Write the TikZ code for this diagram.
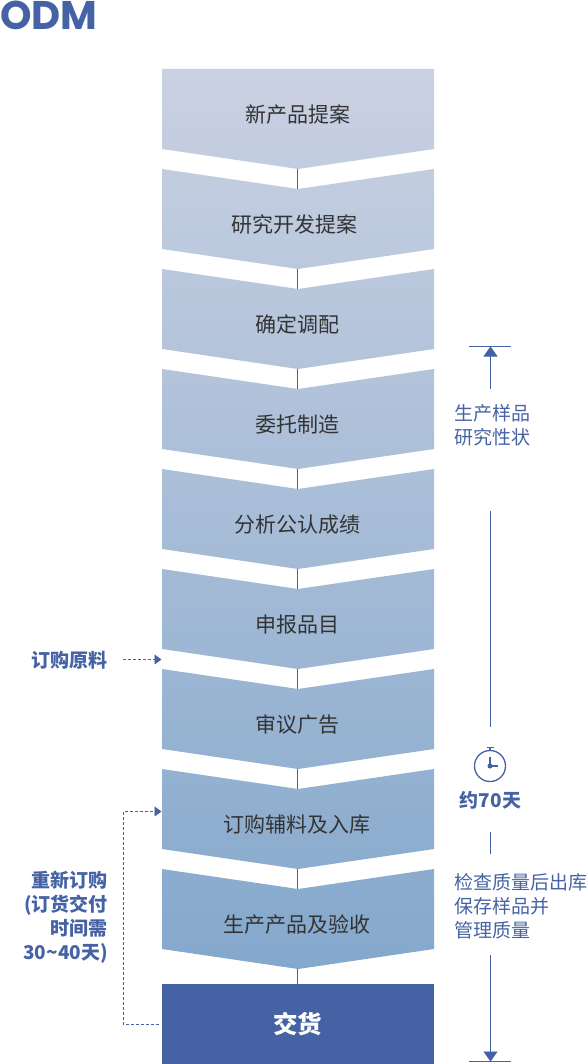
\documentclass[tikz,border=0pt]{standalone}
\usepackage{fontspec}
\setmainfont{Noto Sans CJK SC}
\newfontfamily\logofont{Poppins}
\usetikzlibrary{arrows.meta,positioning,calc}
\definecolor{odmblue}{HTML}{4563A4}
\definecolor{stacktop}{HTML}{CAD1E2}
\definecolor{stackend}{HTML}{84A8CC}
\definecolor{steptext}{HTML}{333333}
\tikzset{
    steplabel/.style={font=\fontsize{21}{21}\selectfont, text=steptext, inner sep=0pt},
    sidenote/.style={font=\fontsize{19}{24}\selectfont, text=odmblue, inner sep=0pt, align=left},
    ordernote/.style={font=\bfseries\fontsize{19}{24}\selectfont, text=odmblue, inner sep=0pt, align=right},
    linkline/.style={odmblue, line width=0.8pt},
    dashline/.style={odmblue, line width=0.8pt, dash pattern=on 3pt off 2pt},
    clockline/.style={odmblue, line width=1.3pt},
}

\begin{document}
\begin{tikzpicture}[x=1pt,y=1pt]
\useasboundingbox (0,0) rectangle (587,-1064);

% Title
\node[font=\logofont\bfseries\fontsize{40}{40}\selectfont, text=odmblue, anchor=west, inner sep=0pt] (title) at (0,-15.5) {ODM};

% Process stack
\def\stackleft{162}
\def\stackright{434}
\def\stackmid{298}
\foreach \i/\steptxt/\labx/\laby in {1/新产品提案/297.5/114.2, 2/研究开发提案/294.5/224.2, 3/确定调配/297/324.2, 4/委托制造/297/424.2, 5/分析公认成绩/297/524.2, 6/申报品目/297/624.2, 7/审议广告/297/724.2, 8/订购辅料及入库/297/824.2, 9/生产产品及验收/297/924.2} {
    \pgfmathsetmacro{\ytop}{-69-100*(\i-1)}
    \pgfmathsetmacro{\pa}{100-(\i-1)*100/9}
    \pgfmathsetmacro{\pb}{100-\i*100/9}
    \pgfmathsetmacro{\ynotch}{\i==1 ? \ytop : \ytop-20}
    \shade[top color=stacktop!\pa!stackend, bottom color=stacktop!\pb!stackend]
        (\stackleft,\ytop) -- (\stackmid,\ynotch) -- (\stackright,\ytop)
        -- (\stackright,\ytop-80) -- (\stackmid,\ytop-100) -- (\stackleft,\ytop-80) -- cycle;
    \coordinate (notch\i) at (\stackmid-0.5,\ynotch);
    \coordinate (tip\i) at (\stackmid-0.5,\ytop-100);
    \node[steplabel] (step\i) at (\labx,-\laby) {\steptxt};
}

% Delivery box
\node[fill=odmblue, text=white, minimum width=272pt, minimum height=80pt, inner sep=0pt,
      font=\bfseries\fontsize{24.5}{25}\selectfont] (deliver) at (\stackmid,-1024) {\hspace*{-1pt}交货};

% Links between the steps
\foreach \i/\j in {1/2,2/3,3/4,4/5,5/6,6/7,7/8,8/9} {
    \draw[linkline] (tip\i) -- (notch\j);
}
\draw[linkline] (tip9) -- (tip9 |- deliver.north);

% Left notes
\node[ordernote, anchor=east] (rawnote) at (108,-660) {订购原料};
\node[ordernote, anchor=north east] (reorder) at (108,-871) {重新订购\\(订货交付\\时间需\\30\textasciitilde40天)};

\coordinate (rawfrom) at (123,-659.5);
\coordinate (rawto) at (161.5,-659.5);
\coordinate (loopturn) at (123,-1024);
\coordinate (loopto) at (161.5,-811.5);
\draw[dashline, -{Triangle[length=7pt,width=10pt]}] (rawfrom) -- (rawto);
\draw[dashline, -{Triangle[length=7pt,width=10pt]}, shorten <=3pt] (deliver.west) -- (loopturn) |- (loopto);

% Right timeline
\def\tlx{490.5}
\coordinate (tlstart) at (\tlx,-346.5);
\coordinate (tlend) at (\tlx,-1061.5);
\draw[linkline] (469,-346.5) -- (511,-346.5);
\draw[linkline] (469,-1061.5) -- (511,-1061.5);
\draw[linkline, {Triangle[length=10pt,width=14pt]}-] (tlstart) -- (\tlx,-389);
\draw[linkline] (\tlx,-511) -- (\tlx,-727);
\draw[linkline] (\tlx,-832) -- (\tlx,-854);
\draw[linkline, -{Triangle[length=10pt,width=14pt]}] (\tlx,-955) -- (tlend);

\node[sidenote, anchor=north west] (samplenote) at (454,-404.5) {生产样品\\研究性状};
\node[font=\bfseries\fontsize{19}{19}\selectfont, text=odmblue, inner sep=0pt] (daysnote) at (490.5,-800) {约70天};
\node[sidenote, anchor=north west] (qualitynote) at (454,-873.5) {检查质量后出库\\保存样品并\\管理质量};

% Stopwatch
\node[draw=odmblue, clockline, circle, minimum size=31pt, inner sep=0pt] (clock) at (490,-766) {};
\draw[clockline] (486.5,-747.5) -- (493.5,-747.5);
\draw[clockline] (490,-747.5) -- (clock.north);
\fill[odmblue] (clock.center) circle (2.5pt);
\draw[clockline] (clock.center) -- ++(0,9);
\draw[clockline] (clock.center) -- ++(8,0);

\end{tikzpicture}
\end{document}
